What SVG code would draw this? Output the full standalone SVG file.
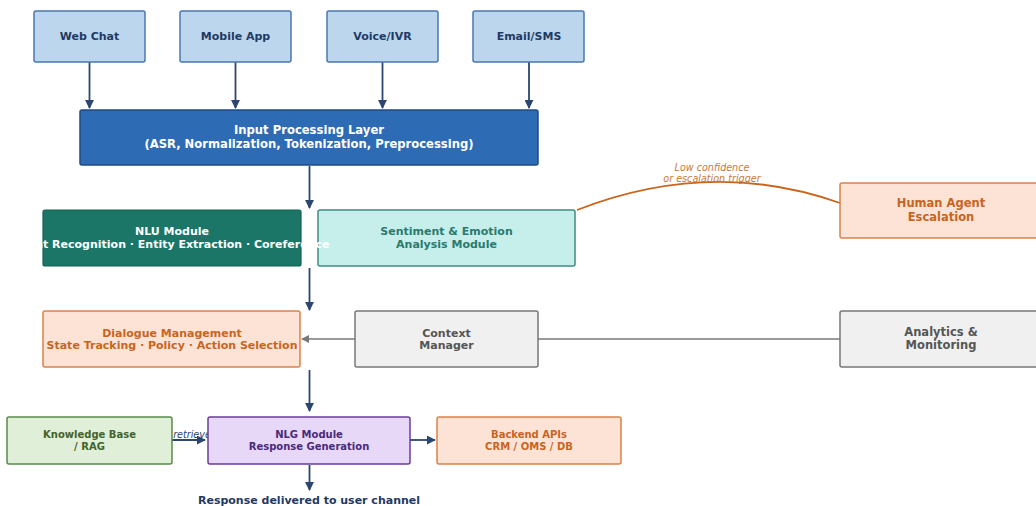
<svg xmlns="http://www.w3.org/2000/svg" width="1036" height="506" viewBox="0 0 1036 506">
<style>
text{font-family:"DejaVu Sans",sans-serif;font-weight:bold;text-anchor:middle}
.t{font-size:11px}
.ch rect{fill:#bcd6ee;stroke:#4a78b0;stroke-width:1.5}
.ch text{fill:#1f3a64}
.lbl{font-weight:normal;font-style:italic;font-size:9.6px}
.cn{stroke:#2b4670;stroke-width:1.8;fill:none}
.gr{stroke:#777;stroke-width:1.6;fill:none}
</style>
<defs>
<marker id="ah" viewBox="0 0 10 10" refX="9" refY="5" markerWidth="5" markerHeight="5" orient="auto"><path d="M0,0L10,5L0,10z" fill="#2b4670"/></marker>
<marker id="ag" viewBox="0 0 10 10" refX="9" refY="5" markerWidth="5" markerHeight="5" orient="auto"><path d="M0,0L10,5L0,10z" fill="#777"/></marker>
</defs>
<g id="connectors">
<line class="cn" x1="89.5" y1="62" x2="89.5" y2="108" marker-end="url(#ah)"/>
<line class="cn" x1="235.5" y1="62" x2="235.5" y2="108" marker-end="url(#ah)"/>
<line class="cn" x1="382.5" y1="62" x2="382.5" y2="108" marker-end="url(#ah)"/>
<line class="cn" x1="529" y1="62" x2="529" y2="108" marker-end="url(#ah)"/>
<line class="cn" x1="309.5" y1="166" x2="309.5" y2="208" marker-end="url(#ah)"/>
<line class="cn" x1="309.5" y1="268" x2="309.5" y2="310" marker-end="url(#ah)"/>
<line class="gr" x1="355" y1="339" x2="302" y2="339" marker-end="url(#ag)"/>
<line class="gr" x1="538" y1="339" x2="840" y2="339"/>
<line class="cn" x1="309.5" y1="370" x2="309.5" y2="411" marker-end="url(#ah)"/>
<line class="cn" x1="172" y1="440" x2="205" y2="440" marker-end="url(#ah)"/>
<line class="cn" x1="410" y1="440" x2="435" y2="440" marker-end="url(#ah)"/>
<line class="cn" x1="309.5" y1="465" x2="309.5" y2="490" marker-end="url(#ah)"/>
<path d="M577,210 Q711.5,157.5 840,203" stroke="#c8651e" stroke-width="1.8" fill="none"/>
<text class="lbl" x="712" y="170.5" fill="#c87a3a">Low confidence</text>
<text class="lbl" x="712" y="181.5" fill="#c87a3a">or escalation trigger</text>
<text class="lbl" x="192" y="438" fill="#2b4670">retrieve</text>
</g>
<g id="webchat" class="ch"><rect x="34" y="11" width="111" height="51" rx="2"/><text class="t" x="89.5" y="40">Web Chat</text></g>
<g id="mobileapp" class="ch"><rect x="180" y="11" width="111" height="51" rx="2"/><text class="t" x="235.5" y="40">Mobile App</text></g>
<g id="voiceivr" class="ch"><rect x="327" y="11" width="111" height="51" rx="2"/><text class="t" x="382.5" y="40">Voice/IVR</text></g>
<g id="emailsms" class="ch"><rect x="473" y="11" width="111" height="51" rx="2"/><text class="t" x="529" y="40">Email/SMS</text></g>
<g id="input"><rect x="80" y="110" width="458" height="55" rx="2" fill="#2e6bb5" stroke="#1f4a85" stroke-width="1.5"/><text x="309" y="134" font-size="11.6" fill="#fff">Input Processing Layer</text><text x="309" y="148" font-size="11.6" fill="#fff">(ASR, Normalization, Tokenization, Preprocessing)</text></g>
<g id="sentiment"><rect x="318" y="210" width="257" height="56" rx="2" fill="#c6eeea" stroke="#3f8c82" stroke-width="1.5"/><text class="t" x="446.5" y="235" fill="#2a7a6e">Sentiment &amp; Emotion</text><text class="t" x="446.5" y="248" fill="#2a7a6e">Analysis Module</text></g>
<g id="nlu"><rect x="43" y="210" width="258" height="56" rx="2" fill="#1b7667" stroke="#156052" stroke-width="1.2"/><text class="t" x="172" y="235" fill="#fff">NLU Module</text><text class="t" x="170" y="248" fill="#fff">Intent Recognition · Entity Extraction · Coreference</text></g>
<g id="human"><rect x="840" y="183" width="202" height="55" rx="2" fill="#fde3d6" stroke="#d9834a" stroke-width="1.5"/><text x="941" y="207" font-size="11.5" fill="#c8651e">Human Agent</text><text x="941" y="221" font-size="11.5" fill="#c8651e">Escalation</text></g>
<g id="dialogue"><rect x="43" y="311" width="257" height="56" rx="2" fill="#fde3d6" stroke="#d9834a" stroke-width="1.5"/><text class="t" x="172" y="337" fill="#c8651e">Dialogue Management</text><text class="t" x="172" y="349" fill="#c8651e">State Tracking · Policy · Action Selection</text></g>
<g id="context"><rect x="355" y="311" width="183" height="56" rx="2" fill="#f0f0f0" stroke="#777" stroke-width="1.5"/><text class="t" x="446.5" y="337" fill="#555">Context</text><text class="t" x="446.5" y="349" fill="#555">Manager</text></g>
<g id="analytics"><rect x="840" y="311" width="202" height="56" rx="2" fill="#f0f0f0" stroke="#777" stroke-width="1.5"/><text x="941" y="336" font-size="11.5" fill="#555">Analytics &amp;</text><text x="941" y="349" font-size="11.5" fill="#555">Monitoring</text></g>
<g id="kb"><rect x="7" y="417" width="165" height="47" rx="2" fill="#e0efd8" stroke="#5a8a4a" stroke-width="1.5"/><text x="89.5" y="438" font-size="10" fill="#44622c">Knowledge Base</text><text x="89.5" y="450" font-size="10" fill="#44622c">/ RAG</text></g>
<g id="nlg"><rect x="208" y="417" width="202" height="47" rx="2" fill="#e7d8f7" stroke="#6a3d9a" stroke-width="1.5"/><text x="309" y="438" font-size="10" fill="#4a2a7a">NLG Module</text><text x="309" y="450" font-size="10" fill="#4a2a7a">Response Generation</text></g>
<g id="backend"><rect x="437" y="417" width="184" height="47" rx="2" fill="#fde3d6" stroke="#d9834a" stroke-width="1.5"/><text x="529" y="438" font-size="10" fill="#c8651e">Backend APIs</text><text x="529" y="450" font-size="10" fill="#c8651e">CRM / OMS / DB</text></g>
<g id="response"><text class="t" x="309" y="504" fill="#1f3a64">Response delivered to user channel</text></g>
</svg>
